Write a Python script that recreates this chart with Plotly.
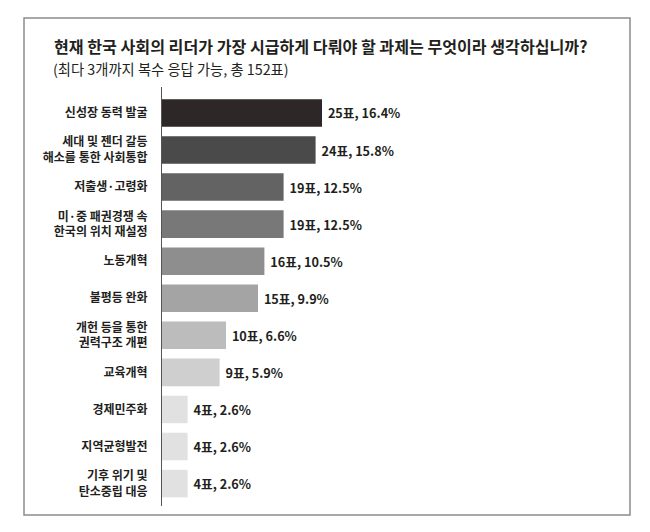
import plotly.graph_objects as go

# survey answers, top to bottom
categories = [
    "신성장 동력 발굴",
    "세대 및 젠더 갈등<br>해소를 통한 사회통합",
    "저출생·고령화",
    "미·중 패권경쟁 속<br>한국의 위치 재설정",
    "노동개혁",
    "불평등 완화",
    "개헌 등을 통한<br>권력구조 개편",
    "교육개혁",
    "경제민주화",
    "지역균형발전",
    "기후 위기 및<br>탄소중립 대응",
]
votes = [25, 24, 19, 19, 16, 15, 10, 9, 4, 4, 4]
percents = [16.4, 15.8, 12.5, 12.5, 10.5, 9.9, 6.6, 5.9, 2.6, 2.6, 2.6]

title = "현재 한국 사회의 리더가 가장 시급하게 다뤄야 할 과제는 무엇이라 생각하십니까?"
subtitle = "(최다 3개까지 복수 응답 가능, 총 152표)"

bar_colors = ["#2e2727", "#4a4a4a", "#636363", "#787878", "#8e8e8e", "#a4a4a4",
              "#bcbcbc", "#cfcfcf", "#e1e1e1", "#e1e1e1", "#e1e1e1"]

FONT = "Noto Sans CJK KR"
INK = "#231f20"

# page body has an 8px margin, so the figure sits 8px in from the window corner
OFF = 8
W, H = 650 - OFF, 532 - OFF
L, R, T, B = 162 - OFF, 104, 87 - OFF, 34 - OFF
pw, ph = W - L - R, H - T - B


def px_x(x):
    return (x - OFF - L) / pw


def px_y(y):
    return (H - B - (y - OFF)) / ph


labels = ["{}표, {}%".format(v, p) for v, p in zip(votes, percents)]

fig = go.Figure()
fig.add_trace(go.Bar(
    x=votes, y=categories, orientation="h",
    marker=dict(color=bar_colors, line=dict(width=0)),
    text=labels, texttemplate=" %{text}", textposition="outside",
    textfont=dict(family=FONT, size=12.7, color=INK, weight="bold"),
    constraintext="none", cliponaxis=False, hoverinfo="skip",
))

fig.update_layout(
    width=W, height=H,
    margin=dict(l=L, r=R, t=T, b=B),
    plot_bgcolor="white", paper_bgcolor="white",
    showlegend=False, bargap=0.257,
    font=dict(family=FONT, color=INK),
)
fig.update_xaxes(range=[0, 60 * pw / 384], visible=False)
fig.update_yaxes(
    type="category", range=[10.605, -0.7],
    showline=True, linecolor="#555555", linewidth=1,
    showgrid=False, zeroline=False, ticks="", ticklabelstandoff=11,
    tickfont=dict(family=FONT, size=12, color=INK, weight="bold"),
)

# frame around the graphic
fig.add_shape(type="rect", xref="paper", yref="paper",
              x0=px_x(24), x1=px_x(630), y0=px_y(18), y1=px_y(515),
              line=dict(color="#8c8c8c", width=1.5), layer="below")

fig.add_annotation(text=title, xref="paper", yref="paper",
                   x=px_x(52), y=px_y(46), xanchor="left", yanchor="middle",
                   showarrow=False,
                   font=dict(family=FONT, size=16.1, color=INK, weight="bold"))
fig.add_annotation(text=subtitle, xref="paper", yref="paper",
                   x=px_x(51), y=px_y(68), xanchor="left", yanchor="middle",
                   showarrow=False,
                   font=dict(family=FONT, size=14.3, color=INK))

fig.write_html("out.html")
